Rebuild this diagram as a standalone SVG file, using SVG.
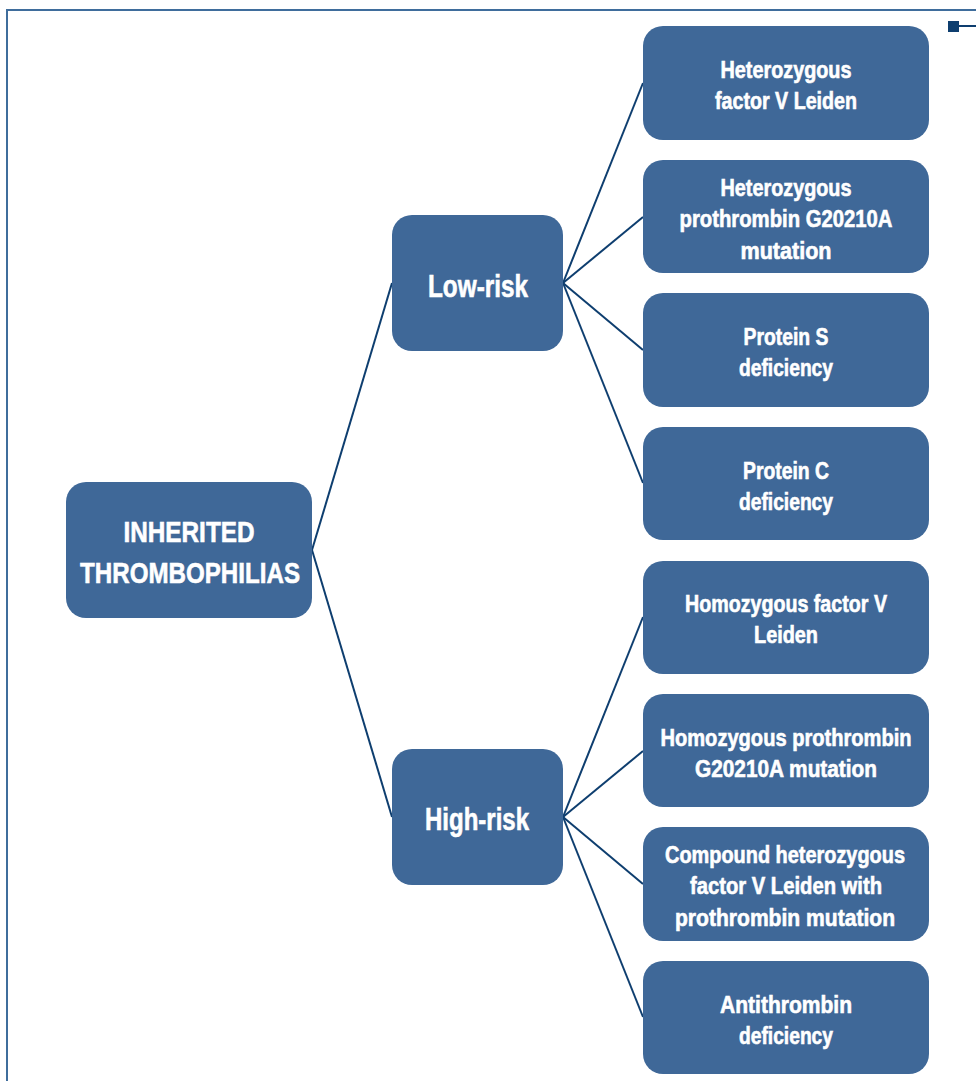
<svg xmlns="http://www.w3.org/2000/svg" width="976" height="1081" viewBox="0 0 976 1081">
<style>
.node{fill:#3f6898;}
.t{fill:#ffffff;stroke:#ffffff;stroke-width:0.6;font-family:"Liberation Sans",Arial,sans-serif;font-weight:bold;text-anchor:middle;}
.leaf{font-size:23px;}
.mid{font-size:31px;}
.root{font-size:30px;}
.c{stroke:#0e3e6f;stroke-width:2;fill:none;}
</style>
<rect width="976" height="1081" fill="#ffffff"/>
<g id="frame">
<path d="M7 1081 V10 H976" fill="none" stroke="#3f6d9c" stroke-width="2"/>
<rect x="948" y="21" width="11" height="11" fill="#0e3e6f"/>
<line x1="958" y1="26" x2="976" y2="26" stroke="#0e3e6f" stroke-width="2"/>
</g>
<g id="connectors">
<line class="c" x1="312" y1="550" x2="392" y2="283"/>
<line class="c" x1="312" y1="550" x2="392" y2="817"/>
<line class="c" x1="563" y1="283" x2="643" y2="83"/>
<line class="c" x1="563" y1="283" x2="643" y2="217"/>
<line class="c" x1="563" y1="283" x2="643" y2="350"/>
<line class="c" x1="563" y1="283" x2="643" y2="483"/>
<line class="c" x1="563" y1="817" x2="643" y2="617"/>
<line class="c" x1="563" y1="817" x2="643" y2="751"/>
<line class="c" x1="563" y1="817" x2="643" y2="884"/>
<line class="c" x1="563" y1="817" x2="643" y2="1017"/>
</g>
<g id="root">
<rect class="node" x="66" y="482" width="246" height="136" rx="20"/>
<text class="t root" x="189" y="542" textLength="131" lengthAdjust="spacingAndGlyphs">INHERITED</text>
<text class="t root" x="190" y="583" textLength="220" lengthAdjust="spacingAndGlyphs">THROMBOPHILIAS</text>
</g>
<g id="low-risk">
<rect class="node" x="392" y="215" width="171" height="136" rx="20"/>
<text class="t mid" x="478" y="297" textLength="100" lengthAdjust="spacingAndGlyphs">Low-risk</text>
</g>
<g id="high-risk">
<rect class="node" x="392" y="749" width="171" height="136" rx="20"/>
<text class="t mid" x="477" y="830" textLength="104" lengthAdjust="spacingAndGlyphs">High-risk</text>
</g>
<g id="leaf1">
<rect class="node" x="643" y="26" width="286" height="114" rx="20"/>
<text class="t leaf" x="786" y="78" textLength="131" lengthAdjust="spacingAndGlyphs">Heterozygous</text>
<text class="t leaf" x="786" y="109" textLength="142" lengthAdjust="spacingAndGlyphs">factor V Leiden</text>
</g>
<g id="leaf2">
<rect class="node" x="643" y="160" width="286" height="113" rx="20"/>
<text class="t leaf" x="786" y="196" textLength="131" lengthAdjust="spacingAndGlyphs">Heterozygous</text>
<text class="t leaf" x="786" y="227" textLength="213" lengthAdjust="spacingAndGlyphs">prothrombin G20210A</text>
<text class="t leaf" x="786" y="259" textLength="91" lengthAdjust="spacingAndGlyphs">mutation</text>
</g>
<g id="leaf3">
<rect class="node" x="643" y="293" width="286" height="114" rx="20"/>
<text class="t leaf" x="786" y="345" textLength="85" lengthAdjust="spacingAndGlyphs">Protein S</text>
<text class="t leaf" x="786" y="376" textLength="94" lengthAdjust="spacingAndGlyphs">deficiency</text>
</g>
<g id="leaf4">
<rect class="node" x="643" y="427" width="286" height="113" rx="20"/>
<text class="t leaf" x="786" y="479" textLength="86" lengthAdjust="spacingAndGlyphs">Protein C</text>
<text class="t leaf" x="786" y="510" textLength="94" lengthAdjust="spacingAndGlyphs">deficiency</text>
</g>
<g id="leaf5">
<rect class="node" x="643" y="561" width="286" height="113" rx="20"/>
<text class="t leaf" x="786" y="612" textLength="202" lengthAdjust="spacingAndGlyphs">Homozygous factor V</text>
<text class="t leaf" x="786" y="643" textLength="64" lengthAdjust="spacingAndGlyphs">Leiden</text>
</g>
<g id="leaf6">
<rect class="node" x="643" y="694" width="286" height="113" rx="20"/>
<text class="t leaf" x="786" y="746" textLength="251" lengthAdjust="spacingAndGlyphs">Homozygous prothrombin</text>
<text class="t leaf" x="786" y="777" textLength="182" lengthAdjust="spacingAndGlyphs">G20210A mutation</text>
</g>
<g id="leaf7">
<rect class="node" x="643" y="827" width="286" height="114" rx="20"/>
<text class="t leaf" x="785" y="863" textLength="240" lengthAdjust="spacingAndGlyphs">Compound heterozygous</text>
<text class="t leaf" x="786" y="894" textLength="192" lengthAdjust="spacingAndGlyphs">factor V Leiden with</text>
<text class="t leaf" x="785" y="926" textLength="220" lengthAdjust="spacingAndGlyphs">prothrombin mutation</text>
</g>
<g id="leaf8">
<rect class="node" x="643" y="961" width="286" height="113" rx="20"/>
<text class="t leaf" x="786" y="1013" textLength="132" lengthAdjust="spacingAndGlyphs">Antithrombin</text>
<text class="t leaf" x="786" y="1044" textLength="94" lengthAdjust="spacingAndGlyphs">deficiency</text>
</g>
</svg>
